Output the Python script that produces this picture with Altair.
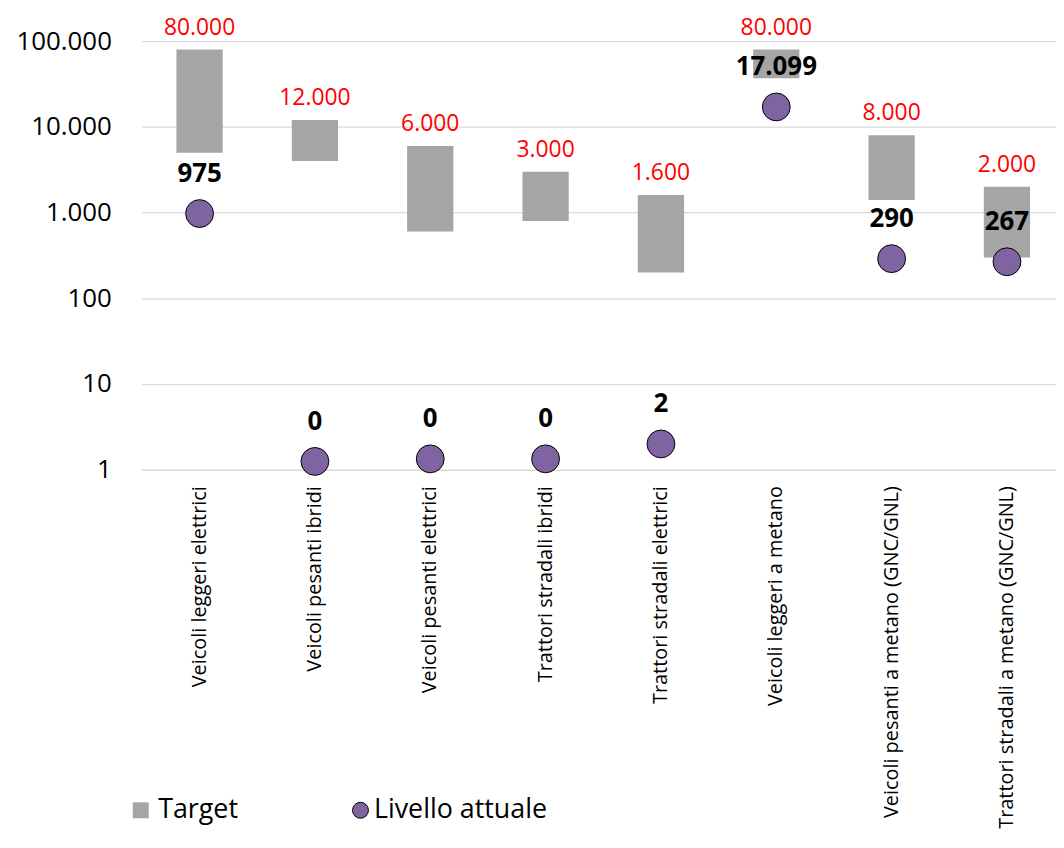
import altair as alt
import pandas as pd

categorie = [
    "Veicoli leggeri elettrici",
    "Veicoli pesanti ibridi",
    "Veicoli pesanti elettrici",
    "Trattori stradali ibridi",
    "Trattori stradali elettrici",
    "Veicoli leggeri a metano",
    "Veicoli pesanti a metano (GNC/GNL)",
    "Trattori stradali a metano (GNC/GNL)",
]
target_min = [5000, 4000, 600, 800, 200, 37000, 1400, 300]
target_max = [80000, 12000, 6000, 3000, 1600, 80000, 8000, 2000]
livello = [975, 0, 0, 0, 2, 17099, 290, 267]
# position used on the log axis (0 cannot be drawn on a log scale)
livello_pos = [975, 1.25, 1.34, 1.34, 2, 17099, 290, 267]
y_ticks = [1, 10, 100, 1000, 10000, 100000]


def fmt(v):
    return f"{v:,}".replace(",", ".")


df = pd.DataFrame({
    "categoria": categorie,
    "t_min": target_min,
    "t_max": target_max,
    "liv": livello,
    "liv_pos": livello_pos,
})
df["lab_target"] = [fmt(v) for v in target_max]
df["lab_liv"] = [fmt(v) for v in livello]
df["serie_t"] = "Target"
df["serie_l"] = "Livello attuale"

FONT = "Open Sans"

x_enc = alt.X(
    "categoria:N",
    sort=categorie,
    scale=alt.Scale(paddingInner=0.599, paddingOuter=0.265, align=0.576),
    axis=alt.Axis(
        title=None, labelAngle=-90, labelFontSize=20, labelFont=FONT,
        labelColor="black", labelPadding=16, labelLimit=600,
        domain=False, ticks=False, grid=False,
    ),
)

y_scale = alt.Scale(type="log", domain=[1, 100000], nice=False)
y_axis = alt.Axis(
    title=None, values=y_ticks,
    labelExpr="replace(format(datum.value, ','), ',', '.')",
    labelFontSize=26, labelFont=FONT, labelColor="black", labelPadding=30,
    domain=False, ticks=False, grid=True, gridColor="#D9D9D9", gridWidth=1.3,
)


def y(field):
    return alt.Y(f"{field}:Q", scale=y_scale, axis=y_axis)


base = alt.Chart(df)

bars = base.mark_bar().encode(
    x=x_enc,
    y=y("t_min"),
    y2="t_max:Q",
    color=alt.Color(
        "serie_t:N",
        scale=alt.Scale(domain=["Target"], range=["#A5A5A5"]),
        legend=alt.Legend(
            title=None, orient="none", legendX=-14, legendY=760,
            symbolType="square", symbolSize=256, symbolStrokeWidth=0,
            symbolOpacity=1, labelFontSize=27, labelFont=FONT,
            labelColor="black", labelOffset=4, padding=0, labelLimit=400,
        ),
    ),
)

points = base.mark_point(
    shape="circle", filled=True, stroke="black", strokeWidth=1,
    size=784, opacity=1,
).encode(
    x=x_enc,
    y=y("liv_pos"),
    fill=alt.Fill(
        "serie_l:N",
        scale=alt.Scale(domain=["Livello attuale"], range=["#8064A2"]),
        legend=alt.Legend(
            title=None, orient="none", legendX=207, legendY=760,
            symbolType="circle", symbolSize=256, symbolStrokeColor="black",
            symbolStrokeWidth=1, symbolOpacity=1, labelFontSize=27,
            labelFont=FONT, labelColor="black", labelOffset=0, padding=0,
            labelLimit=400,
        ),
    ),
)

red_labels = base.mark_text(
    color="#FF0000", fontSize=23, font=FONT, dy=-22, baseline="middle",
).encode(x=x_enc, y=y("t_max"), text="lab_target:N")

val_labels = base.mark_text(
    color="black", fontSize=26, font=FONT, fontWeight="bold", dy=-40,
    baseline="middle",
).encode(x=x_enc, y=y("liv_pos"), text="lab_liv:N")

chart = (
    alt.layer(bars, points, red_labels, val_labels)
    .resolve_scale(color="independent", fill="independent")
    .properties(
        width=920, height=431,
        padding={"left": 134, "top": 31, "right": 0, "bottom": 370},
        autosize=alt.AutoSizeParams(type="none"),
    )
    .configure_view(stroke=None)
)

chart.save("out.html", embed_options={"renderer": "svg", "actions": False})
